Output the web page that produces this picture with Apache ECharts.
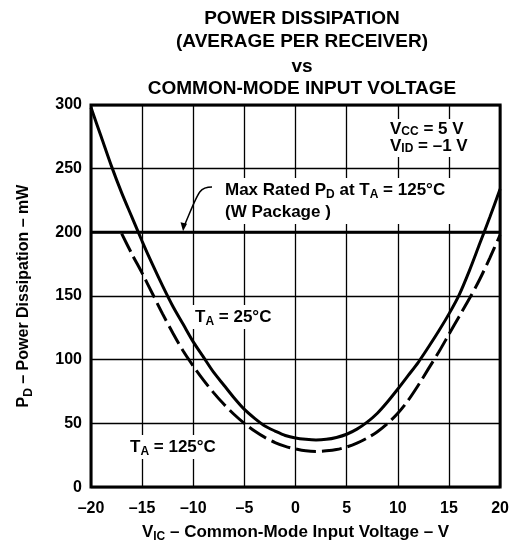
<!DOCTYPE html>
<html>
<head>
<meta charset="utf-8">
<script src="https://cdn.jsdelivr.net/npm/echarts@6/dist/echarts.min.js"></script>
<style>
html, body { margin: 0; padding: 0; background: #fff; }
#chart { width: 512px; height: 548px; }
</style>
</head>
<body>
<div id="chart"></div>
<script>
// V_IC (V) and P_D (mW)
const vic25 = [-20, -19, -18, -17, -16, -15, -14, -13, -12, -11, -10, -9, -8, -7, -6, -5, -4, -3, -2, -1,
    0, 1, 2, 3, 4, 5, 6, 7, 8, 9, 10, 11, 12, 13, 14, 15, 16, 17, 18, 19, 20]
const pd25 = [298, 275, 252, 231, 212, 193, 175, 158, 142, 128, 114, 102, 90, 80, 70, 61, 54, 48, 44, 40.5,
    38.5, 37.5, 37, 37.5, 39, 41.5, 45.5, 51, 58, 67, 77, 87.5, 98, 110, 122.5, 136, 151, 170, 191, 212, 234]
const vic125 = [-17, -16, -15, -14, -13, -12, -11, -10, -9, -8, -7, -6, -5, -4, -3, -2, -1,
    0, 1, 2, 3, 4, 5, 6, 7, 8, 9, 10, 11, 12, 13, 14, 15, 16, 17, 18, 19, 20]
const pd125 = [199, 183, 168, 152, 136, 121, 107, 95, 84, 74, 65, 57, 50, 44, 39, 35, 32,
    30, 28.5, 28, 28.5, 29.5, 31.5, 34.5, 38.5, 43.5, 50, 58, 68, 80, 93, 106, 120, 134, 148, 163, 180, 198]
const maxRatedPd = 200
const xRange = [-20, 20]
const yRange = [0, 300]

const fontFam = '"Liberation Sans", Arial, sans-serif'
const subStyle = { fontSize: 12, fontWeight: 'bold', fontFamily: fontFam, lineHeight: 12, verticalAlign: 'bottom', color: '#000' }

const toPairs = (xs, ys) => xs.map((x, i) => [x, ys[i]])

const chart = echarts.init(document.getElementById('chart'))

chart.setOption({
    animation: false,
    grid: { left: 91, right: 11, top: 105, bottom: 54, show: true, borderColor: '#000', borderWidth: 3 },
    xAxis: {
        type: 'value', min: xRange[0], max: xRange[1], interval: 5,
        name: 'V{sub|IC} – Common-Mode Input Voltage – V',
        nameLocation: 'middle', nameGap: 33,
        nameTextStyle: { color: '#000', fontWeight: 'bold', fontSize: 17, fontFamily: fontFam, lineHeight: 22, rich: { sub: subStyle } },
        axisLine: { show: false }, axisTick: { show: false },
        splitLine: { lineStyle: { color: '#000', width: 1.3 } },
        axisLabel: {
            color: '#000', fontWeight: 'bold', fontSize: 16, fontFamily: fontFam, margin: 13,
            formatter: v => (v < 0 ? '–' + Math.abs(v) : '' + v)
        }
    },
    yAxis: {
        type: 'value', min: yRange[0], max: yRange[1], interval: 50,
        name: 'P{sub|D} – Power Dissipation – mW',
        nameLocation: 'middle', nameGap: 56,
        nameTextStyle: { color: '#000', fontWeight: 'bold', fontSize: 16, fontFamily: fontFam, lineHeight: 22, rich: { sub: subStyle } },
        axisLine: { show: false }, axisTick: { show: false },
        splitLine: { lineStyle: { color: '#000', width: 1.3 } },
        axisLabel: { color: '#000', fontWeight: 'bold', fontSize: 16, fontFamily: fontFam, margin: 9 }
    },
    series: [
        {
            name: 'max', type: 'line', symbol: 'none', z: 3,
            data: [[xRange[0], maxRatedPd], [xRange[1], maxRatedPd]],
            lineStyle: { color: '#000', width: 3 }
        },
        {
            name: 'TA25', type: 'line', symbol: 'none', smooth: 0.3, z: 4,
            data: toPairs(vic25, pd25),
            lineStyle: { color: '#000', width: 3 }
        },
        {
            name: 'TA125', type: 'line', symbol: 'none', smooth: 0.3, z: 4,
            data: toPairs(vic125, pd125),
            lineStyle: { color: '#000', width: 3, type: [20, 6] }
        }
    ]
})

// annotations
const txt = (text, x, y, opts) => ({
    type: 'text', z: 100,
    style: Object.assign({
        text, x, y, fill: '#000', fontWeight: 'bold', fontSize: 17, fontFamily: fontFam,
        rich: { sub: subStyle }
    }, opts || {})
})

const titleLines = ['POWER DISSIPATION', '(AVERAGE PER RECEIVER)', 'vs', 'COMMON-MODE INPUT VOLTAGE']
const titleY = [19, 42, 67, 89]

const tip = chart.convertToPixel({ gridIndex: 0 }, [-11.0, maxRatedPd])
const graphics = []
titleLines.forEach((t, i) => {
    graphics.push(txt(t, 302, titleY[i], { fontSize: 19, textAlign: 'center', textVerticalAlign: 'middle' }))
})
graphics.push(txt('V{sub|CC} = 5 V\nV{sub|ID} = –1 V', 386, 119, {
    lineHeight: 17, backgroundColor: '#fff', padding: [2, 4, 2, 4]
}))
graphics.push(txt('Max Rated P{sub|D} at T{sub|A} = 125°C\n(W Package )', 219, 178, {
    lineHeight: 22, backgroundColor: '#fff', padding: [1, 8, 1, 6]
}))
graphics.push(txt('T{sub|A} = 25°C', 191, 305, {
    lineHeight: 22, backgroundColor: '#fff', padding: [1, 4, 1, 4]
}))
graphics.push(txt('T{sub|A} = 125°C', 126, 435, {
    lineHeight: 22, backgroundColor: '#fff', padding: [1, 4, 1, 4]
}))
// leader + arrow
graphics.push({
    type: 'bezierCurve', z: 101,
    shape: { x1: 212, y1: 187, cpx1: 199, cpy1: 187, cpx2: 199, cpy2: 191, x2: tip[0] + 1, y2: tip[1] - 6 },
    style: { stroke: '#000', lineWidth: 1.5, fill: null }
})
graphics.push({
    type: 'polygon', z: 101,
    shape: { points: [[tip[0], tip[1] - 1], [tip[0] - 2.5, tip[1] - 10], [tip[0] + 4, tip[1] - 8.5]] },
    style: { fill: '#000' }
})
chart.setOption({ graphic: graphics })
</script>
</body>
</html>
